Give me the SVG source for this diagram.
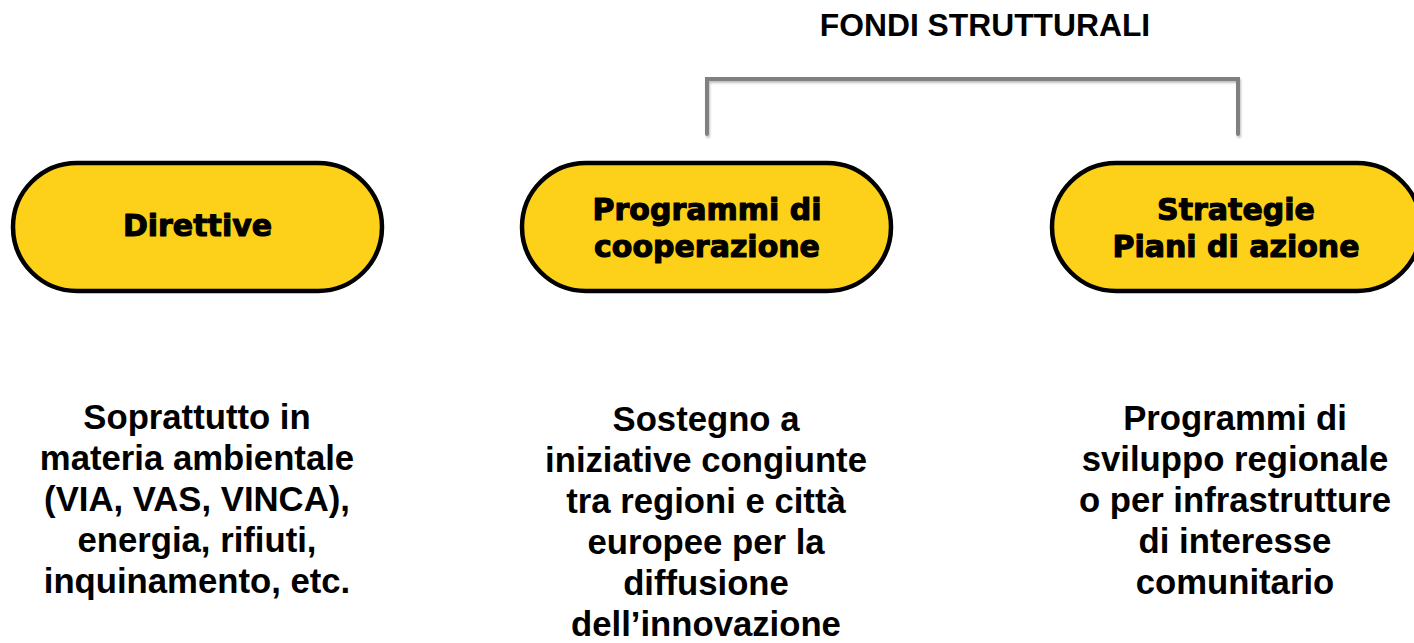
<svg xmlns="http://www.w3.org/2000/svg" width="1414" height="643" viewBox="0 0 1414 643">
  <style>
    .node rect { fill: #FDD11A; stroke: #000000; stroke-width: 4.5; }
    .ntxt { font-family: "DejaVu Sans", "Liberation Sans", sans-serif; font-weight: bold; font-size: 30px; fill: #000000; stroke: #000000; stroke-width: 1.1; stroke-linejoin: round; text-anchor: middle; }
    .desc { font-family: "Liberation Sans", Arial, sans-serif; font-weight: bold; font-size: 34.7px; fill: #000000; text-anchor: middle; }
    .title { font-family: "Liberation Sans", Arial, sans-serif; font-weight: bold; font-size: 31.8px; fill: #000000; text-anchor: middle; }
    .bracket { fill: none; stroke: #808080; stroke-width: 4; stroke-linecap: round; stroke-linejoin: miter; }
  </style>
  <defs>
    <filter id="shadow" x="-5%" y="-20%" width="110%" height="140%">
      <feDropShadow dx="1" dy="2" stdDeviation="1.2" flood-color="#000000" flood-opacity="0.25"/>
    </filter>
  </defs>
  <rect x="0" y="0" width="1414" height="643" fill="#FFFFFF"/>

  <g id="title">
    <text class="title" x="985" y="36">FONDI STRUTTURALI</text>
  </g>

  <g id="connectors">
    <path class="bracket" filter="url(#shadow)" d="M707,134 V79 H1238 V134"/>
  </g>

  <g id="node-direttive" class="node">
    <rect x="13" y="163" width="369" height="128" rx="64" ry="64"/>
    <text class="ntxt" x="197.5" y="236">Direttive</text>
  </g>

  <g id="node-programmi" class="node">
    <rect x="522" y="163" width="369" height="128" rx="64" ry="64"/>
    <text class="ntxt" x="707" y="220">Programmi di</text>
    <text class="ntxt" x="707" y="257">cooperazione</text>
  </g>

  <g id="node-strategie" class="node">
    <rect x="1052" y="163" width="369" height="128" rx="64" ry="64"/>
    <text class="ntxt" x="1236" y="220">Strategie</text>
    <text class="ntxt" x="1236" y="257">Piani di azione</text>
  </g>

  <g id="desc-direttive">
    <text class="desc" x="197" y="429">Soprattutto in</text>
    <text class="desc" x="197" y="470">materia ambientale</text>
    <text class="desc" x="197" y="511">(VIA, VAS, VINCA),</text>
    <text class="desc" x="197" y="552">energia, rifiuti,</text>
    <text class="desc" x="197" y="593">inquinamento, etc.</text>
  </g>

  <g id="desc-programmi">
    <text class="desc" x="706" y="431">Sostegno a</text>
    <text class="desc" x="706" y="472">iniziative congiunte</text>
    <text class="desc" x="706" y="513">tra regioni e città</text>
    <text class="desc" x="706" y="554">europee per la</text>
    <text class="desc" x="706" y="595">diffusione</text>
    <text class="desc" x="706" y="636">dell’innovazione</text>
  </g>

  <g id="desc-strategie">
    <text class="desc" x="1235" y="430">Programmi di</text>
    <text class="desc" x="1235" y="471">sviluppo regionale</text>
    <text class="desc" x="1235" y="512">o per infrastrutture</text>
    <text class="desc" x="1235" y="553">di interesse</text>
    <text class="desc" x="1235" y="594">comunitario</text>
  </g>
</svg>
